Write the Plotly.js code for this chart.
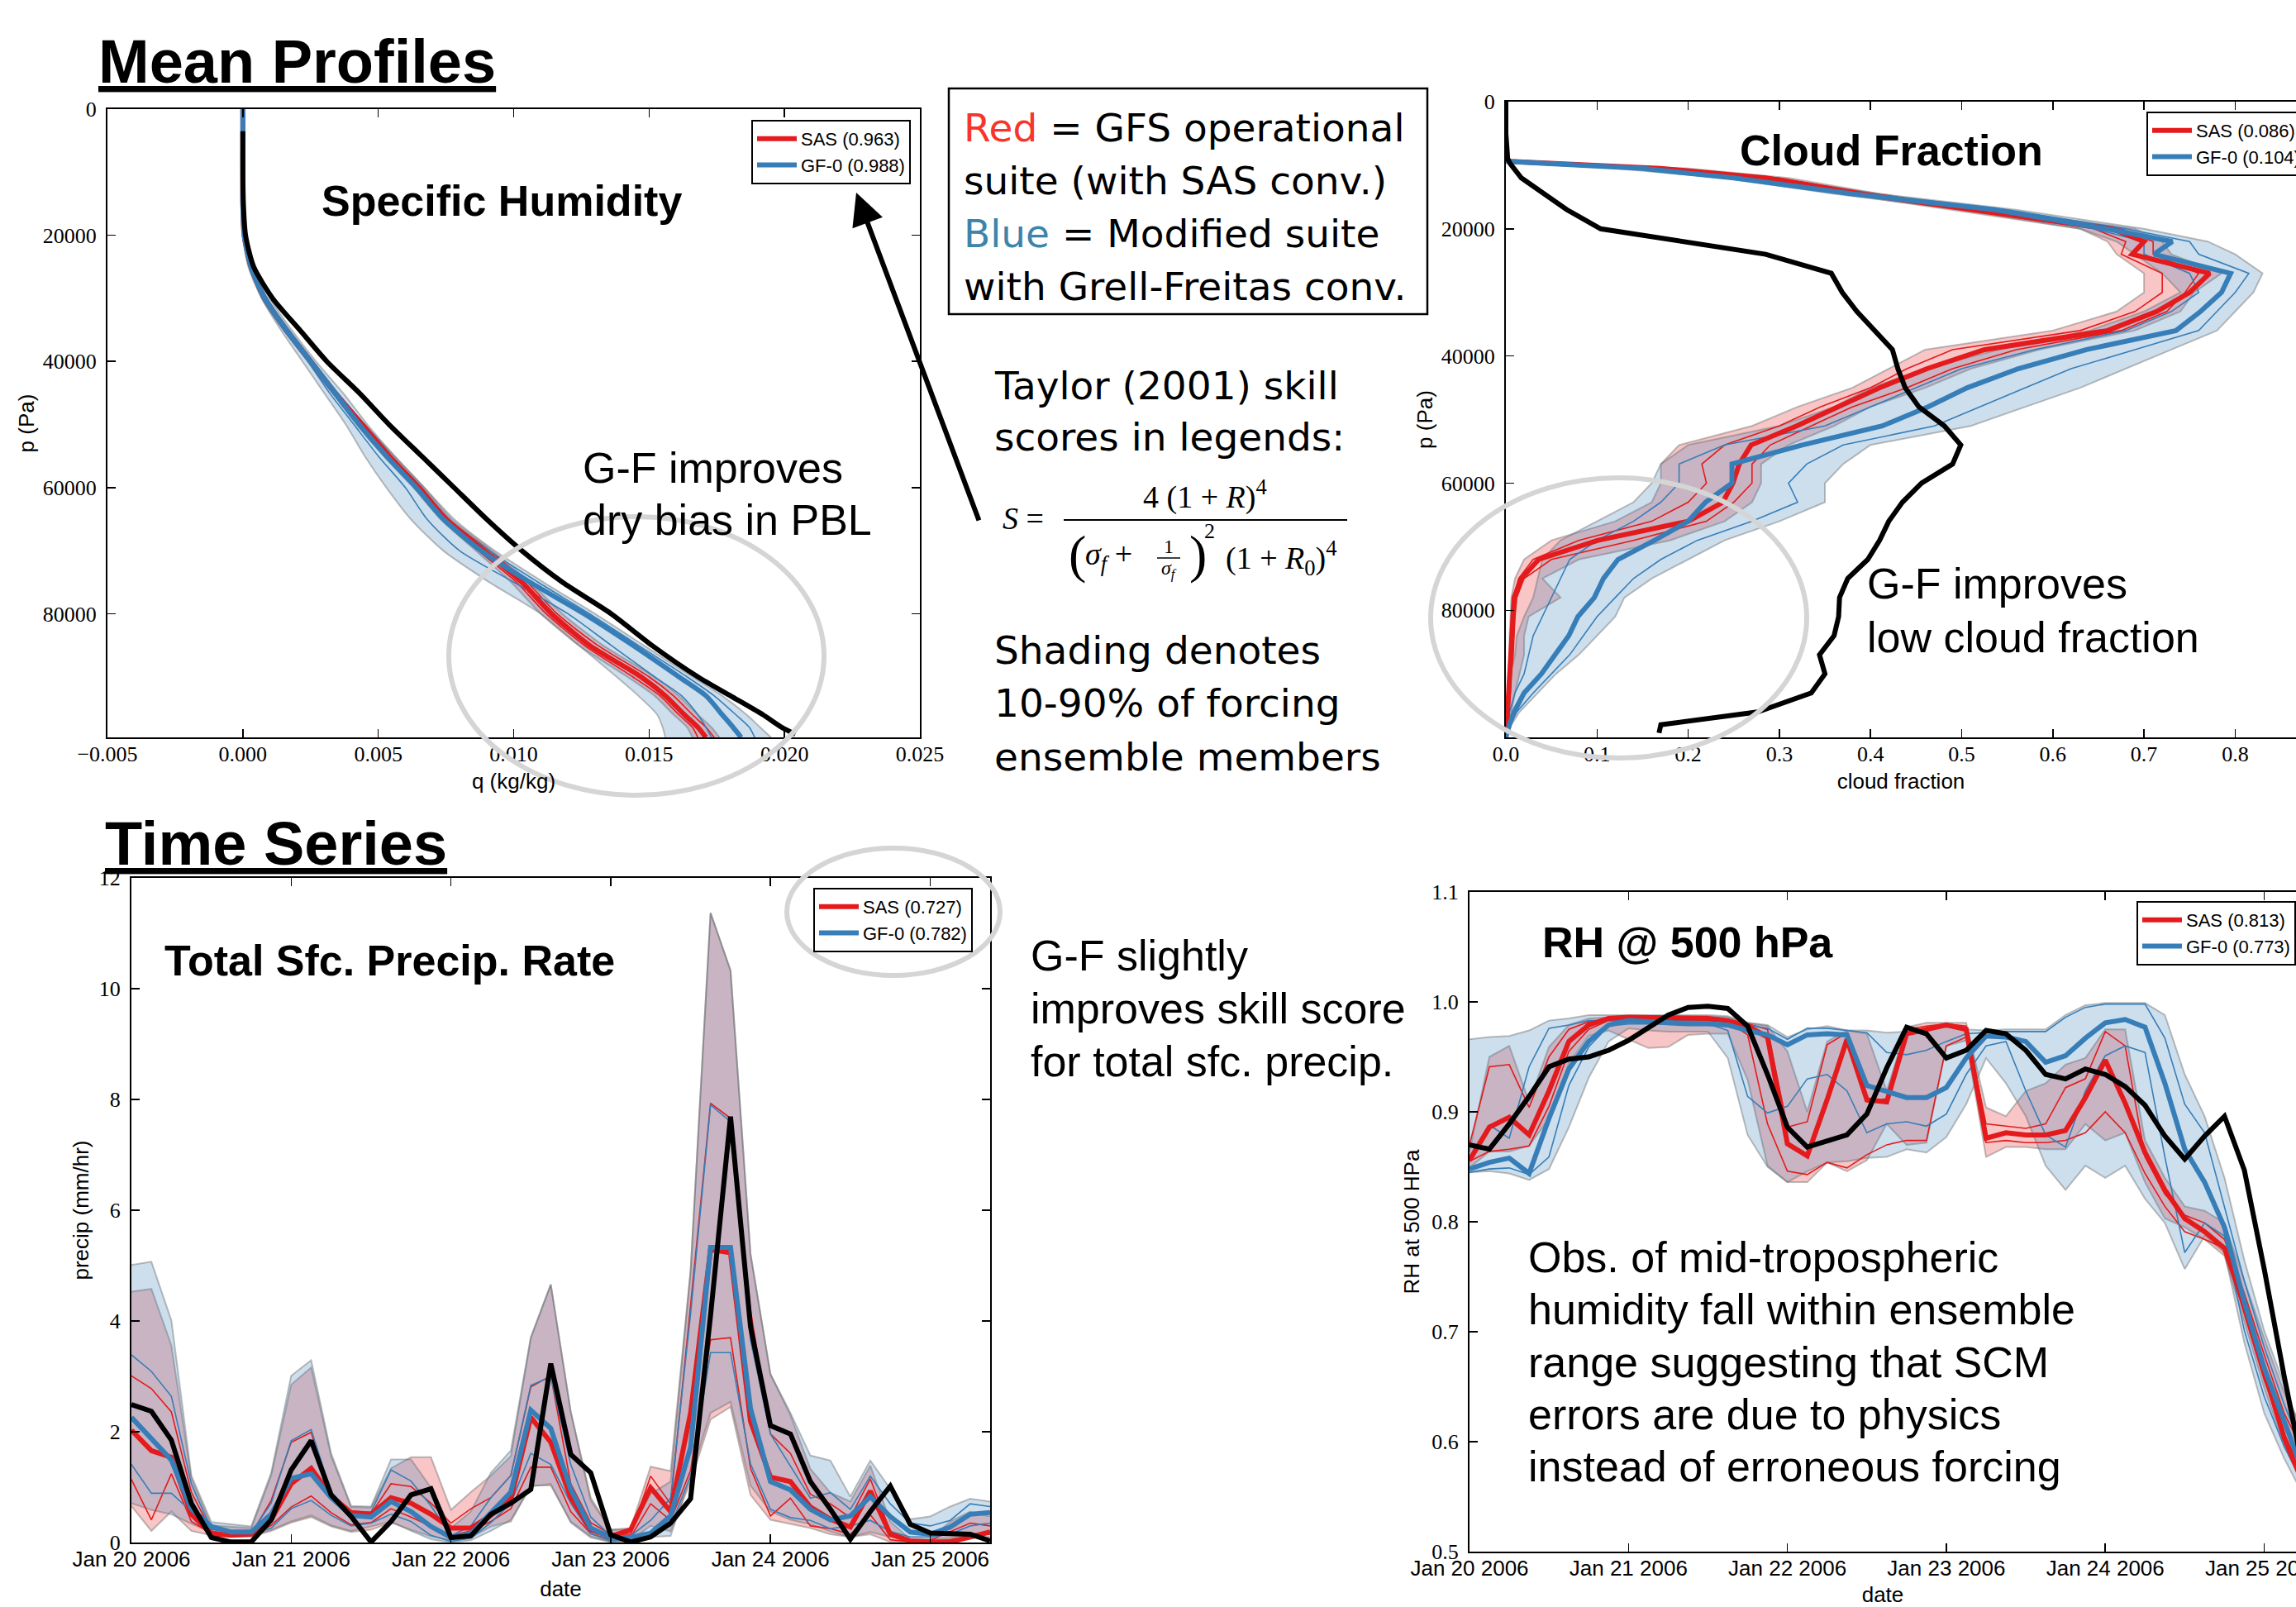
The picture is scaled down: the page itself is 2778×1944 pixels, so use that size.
<!DOCTYPE html>
<html><head><meta charset="utf-8">
<script src="https://cdn.plot.ly/plotly-3.0.1.min.js"></script>
<style>html,body{margin:0;padding:0;background:#fff;} #chart{width:2778px;height:1944px;}</style>
</head><body><div id="chart"></div>
<script>
// ---------- Panel 1: specific humidity profiles ----------
const P1 = [0,5000,10000,15000,20000,25000,30000,35000,40000,45000,50000,55000,60000,65000,70000,75000,80000,85000,90000,93000,96000,98000,99600];
const obsP1 = [3500,5000,10000,15000,20000,25000,30000,35000,40000,45000,50000,55000,60000,65000,70000,75000,80000,85000,90000,93000,96000,98000,99100];
const obsQ = [0,0,0,0.00002,0.0001,0.0004,0.0011,0.0021,0.0031,0.0043,0.0054,0.0066,0.0078,0.0090,0.0103,0.0118,0.0136,0.0151,0.0168,0.0180,0.0192,0.0199,0.0204];
const sasQ = [0,0,0,0,0.00005,0.0003,0.0008,0.0016,0.0025,0.0034,0.0044,0.0054,0.0065,0.0075,0.0089,0.0103,0.0114,0.0128,0.0147,0.0156,0.0163,0.0168,0.0171];
const sasQlo = [0,0,0,0,0.00003,0.00025,0.0007,0.0015,0.0024,0.0033,0.0042,0.0052,0.0063,0.0073,0.0086,0.0099,0.0110,0.0124,0.0142,0.0152,0.0159,0.0164,0.0166];
const sasQhi = [0,0,0,0,0.00008,0.00035,0.0009,0.0017,0.0026,0.0035,0.0045,0.0056,0.0067,0.0077,0.0092,0.0106,0.0118,0.0133,0.0152,0.0161,0.0168,0.0173,0.0176];
const sasQt1 = [0,0,0,0,0.00004,0.0003,0.00075,0.00155,0.00245,0.00335,0.0043,0.0053,0.0064,0.0074,0.0087,0.0101,0.0112,0.0126,0.0144,0.0154,0.0161,0.0166,0.0168];
const sasQt2 = [0,0,0,0,0.00006,0.00032,0.00085,0.00165,0.00255,0.00345,0.0045,0.0055,0.0066,0.0076,0.0091,0.0105,0.0116,0.0131,0.0150,0.0159,0.0166,0.0171,0.0174];
const gfQ = [0,0,0,0,0.00005,0.0003,0.0008,0.0016,0.0025,0.0034,0.0043,0.0053,0.0064,0.0074,0.0088,0.0106,0.0126,0.0144,0.0161,0.0171,0.0177,0.0181,0.0184];
const gfQlo = [0,0,0,0,0,0.0002,0.0007,0.0014,0.0022,0.0030,0.0038,0.0045,0.0053,0.0062,0.0074,0.0091,0.0110,0.0124,0.0138,0.0146,0.0153,0.0155,0.0156];
const gfQhi = [0,0,0,0,0.0001,0.0004,0.0010,0.0018,0.0027,0.0037,0.0046,0.0056,0.0067,0.0078,0.0093,0.0111,0.0130,0.0148,0.0166,0.0177,0.0186,0.0191,0.0195];
const gfQt1 = [0,0,0,0,0.00003,0.00025,0.00075,0.0015,0.0024,0.0032,0.0041,0.0050,0.0060,0.0068,0.0080,0.0100,0.0120,0.0136,0.0152,0.0162,0.0168,0.0171,0.0173];
const gfQt2 = [0,0,0,0,0.00007,0.00035,0.0009,0.0017,0.0026,0.0035,0.0045,0.0055,0.0066,0.0076,0.0091,0.0109,0.0128,0.0146,0.0164,0.0174,0.0182,0.0187,0.0189];

// ---------- Panel 2: cloud fraction profiles ----------
const P2 = [0,5000,9000,9400,10500,12000,14500,17000,20000,22000,24000,27000,30000,33000,36000,39000,42000,45000,48000,51000,54000,57000,60000,63000,66000,69000,72000,75000,78000,81000,84000,87000,90000,93000,96000,98000,100000];
const obsP2 = [0,5000,9000,9800,12000,14500,17000,20000,22000,24000,27000,30000,33000,36000,39000,42000,45000,48000,51000,54000,57000,60000,63000,66000,69000,72000,75000,78000,81000,84000,87000,90000,93000,96000,98000,99300];
const obsCF = [0,0,0.002,0.005,0.017,0.042,0.067,0.104,0.195,0.285,0.357,0.369,0.385,0.404,0.424,0.43,0.438,0.453,0.481,0.499,0.49,0.456,0.435,0.42,0.41,0.397,0.375,0.366,0.365,0.36,0.344,0.35,0.335,0.276,0.17,0.168];
const sasCF = [0,0,0,0.005,0.17,0.285,0.39,0.512,0.665,0.70,0.687,0.772,0.75,0.714,0.66,0.525,0.462,0.41,0.366,0.319,0.269,0.256,0.249,0.238,0.2,0.101,0.036,0.017,0.009,0.008,0.007,0.006,0.005,0.004,0.002,0.001,0];
const sasCFlo = [0,0,0,0,0.14,0.26,0.37,0.49,0.63,0.66,0.67,0.70,0.70,0.67,0.60,0.46,0.42,0.38,0.32,0.27,0.19,0.17,0.17,0.16,0.12,0.05,0.02,0.01,0.006,0.005,0.004,0.004,0.003,0.002,0.001,0,0];
const sasCFhi = [0,0,0,0.01,0.2,0.31,0.41,0.535,0.69,0.72,0.73,0.785,0.755,0.74,0.69,0.585,0.51,0.46,0.40,0.36,0.31,0.28,0.28,0.27,0.24,0.18,0.08,0.04,0.06,0.025,0.02,0.02,0.015,0.01,0.006,0.003,0];
const sasCFt1 = [0,0,0,0.003,0.155,0.27,0.38,0.50,0.645,0.68,0.675,0.72,0.72,0.69,0.63,0.49,0.44,0.40,0.345,0.30,0.24,0.215,0.22,0.20,0.16,0.08,0.03,0.014,0.008,0.007,0.006,0.005,0.004,0.003,0.002,0.001,0];
const sasCFt2 = [0,0,0,0.006,0.185,0.30,0.40,0.525,0.675,0.71,0.71,0.76,0.745,0.725,0.675,0.56,0.49,0.44,0.38,0.335,0.29,0.27,0.27,0.25,0.22,0.14,0.05,0.02,0.012,0.01,0.009,0.008,0.006,0.005,0.003,0.001,0];
const gfCF = [0,0,0,0.002,0.15,0.25,0.38,0.537,0.659,0.731,0.711,0.795,0.785,0.762,0.735,0.637,0.562,0.506,0.463,0.413,0.325,0.248,0.248,0.219,0.2,0.163,0.123,0.107,0.097,0.079,0.069,0.054,0.039,0.02,0.009,0.004,0];
const gfCFlo = [0,0,0,0,0.12,0.24,0.36,0.50,0.63,0.67,0.69,0.72,0.74,0.70,0.64,0.54,0.46,0.40,0.36,0.30,0.20,0.17,0.16,0.14,0.10,0.06,0.04,0.035,0.03,0.02,0.012,0.01,0.005,0.002,0.001,0,0];
const gfCFhi = [0,0,0,0.01,0.19,0.29,0.41,0.56,0.70,0.77,0.80,0.83,0.82,0.80,0.78,0.73,0.68,0.63,0.57,0.51,0.40,0.37,0.35,0.35,0.30,0.24,0.20,0.16,0.13,0.12,0.10,0.08,0.055,0.035,0.015,0.006,0];
const gfCFt1 = [0,0,0,0.001,0.135,0.245,0.37,0.52,0.645,0.70,0.70,0.75,0.76,0.73,0.68,0.58,0.50,0.45,0.40,0.35,0.24,0.19,0.19,0.17,0.14,0.10,0.07,0.06,0.05,0.04,0.03,0.025,0.02,0.01,0.004,0.002,0];
const gfCFt2 = [0,0,0,0.004,0.17,0.27,0.395,0.55,0.68,0.75,0.76,0.815,0.80,0.78,0.76,0.69,0.62,0.57,0.52,0.47,0.37,0.33,0.31,0.32,0.27,0.21,0.17,0.14,0.12,0.10,0.085,0.07,0.05,0.03,0.012,0.005,0];

// ---------- Time axis (3-hourly) ----------
const times = ['2006-01-20 00:00','2006-01-20 03:00','2006-01-20 06:00','2006-01-20 09:00','2006-01-20 12:00','2006-01-20 15:00','2006-01-20 18:00','2006-01-20 21:00',
 '2006-01-21 00:00','2006-01-21 03:00','2006-01-21 06:00','2006-01-21 09:00','2006-01-21 12:00','2006-01-21 15:00','2006-01-21 18:00','2006-01-21 21:00',
 '2006-01-22 00:00','2006-01-22 03:00','2006-01-22 06:00','2006-01-22 09:00','2006-01-22 12:00','2006-01-22 15:00','2006-01-22 18:00','2006-01-22 21:00',
 '2006-01-23 00:00','2006-01-23 03:00','2006-01-23 06:00','2006-01-23 09:00','2006-01-23 12:00','2006-01-23 15:00','2006-01-23 18:00','2006-01-23 21:00',
 '2006-01-24 00:00','2006-01-24 03:00','2006-01-24 06:00','2006-01-24 09:00','2006-01-24 12:00','2006-01-24 15:00','2006-01-24 18:00','2006-01-24 21:00',
 '2006-01-25 00:00','2006-01-25 03:00','2006-01-25 06:00','2006-01-25 09:00'];

// ---------- Panel 3: precipitation ----------
const obsPr = [2.49,2.37,1.85,0.71,0.09,0.01,0.01,0.41,1.31,1.84, 0.86,0.47,0.01,0.38,0.86,0.97,0.09,0.12,0.51,0.71, 0.96,3.23,1.59,1.26,0.14,0.01,0.1,0.35,0.79,4.1, 7.69,3.9,2.11,1.96,1.1,0.6,0.06,0.56,1.02,0.33, 0.17,0.15,0.15,0.03];
const sasPr = [2.03,1.66,1.54,0.51,0.16,0.13,0.15,0.41,1.06,1.34, 0.84,0.54,0.51,0.81,0.71,0.51,0.26,0.26,0.49,0.79, 2.26,1.81,0.81,0.23,0.11,0.23,0.99,0.56,2.34,5.29, 5.23,2.19,1.18,1.1,0.64,0.42,0.28,0.93,0.15,0.03, 0.01,0.01,0.1,0.19];
const sasPrLo = [0.66,0.21,0.56,0.21,0.13,0.11,0.11,0.21,0.36,0.46, 0.29,0.19,0.23,0.36,0.23,0.11,0.04,0.09,0.29,0.38, 1.03,1.03,0.38,0.11,0.01,0.04,0.3,0.2,1.1,2.22, 2.45,0.86,0.41,0.33,0.26,0.15,0.1,0.15,0.01,0, 0,0,0.08,0.1];
const sasPrHi = [4.53,4.58,3.56,1.16,0.31,0.29,0.26,1.21,2.85,3.16, 1.56,0.64,0.63,1.34,1.54,1.54,0.59,0.91,1.21,1.56, 3.69,4.66,2.36,0.81,0.23,0.26,1.37,1.29,4.9,11.37, 10.33,5.21,3.04,2.3,1.33,0.9,0.74,1.39,0.38,0.06, 0.06,0.38,0.56,0.47];
const sasPrT1 = [3.01,2.78,2.36,0.91,0.21,0.15,0.15,0.76,1.81,1.99, 0.86,0.55,0.52,1.06,1.01,0.71,0.35,0.61,0.81,1.21, 2.81,3.01,1.06,0.36,0.15,0.15,1.2,0.7,4.28,7.93, 7.66,4.2,1.96,1.61,0.87,0.7,0.45,1.15,0.2,0.05, 0.04,0.2,0.35,0.3];
const sasPrT2 = [1.14,0.41,1.24,0.38,0.16,0.12,0.12,0.31,0.64,0.84, 0.54,0.32,0.36,0.61,0.46,0.29,0.13,0.21,0.38,0.61, 1.36,1.36,0.56,0.16,0.05,0.1,0.7,0.4,1.3,3.66, 3.7,1.34,0.48,0.8,0.3,0.25,0.15,0.5,0.05,0.01, 0.01,0.05,0.12,0.15];
const gfPr = [2.26,1.86,1.49,0.61,0.29,0.19,0.19,0.51,1.16,1.24, 0.81,0.49,0.46,0.74,0.56,0.29,0.09,0.16,0.54,0.91, 2.39,2.06,0.96,0.26,0.09,0.09,0.17,0.48,1.72,5.33, 5.33,2.42,1.1,0.95,0.6,0.41,0.48,0.83,0.47,0.19, 0.15,0.28,0.51,0.54];
const gfPrLo = [0.71,0.59,0.51,0.34,0.19,0.13,0.13,0.23,0.38,0.49, 0.31,0.21,0.29,0.38,0.21,0.06,0,0.04,0.21,0.41, 1.01,1.06,0.36,0.09,0.01,0.01,0.1,0.12,1.2,2.34, 2.54,1.03,0.56,0.41,0.33,0.2,0.1,0.19,0.1,0.06, 0.05,0.08,0.15,0.19];
const gfPrHi = [5.01,5.07,4.01,1.21,0.37,0.33,0.29,1.26,3.01,3.29, 1.61,0.66,0.65,1.5,1.5,0.99,0.26,0.56,1.26,1.66, 3.71,4.66,2.36,0.76,0.23,0.23,0.88,1.1,4.9,11.37, 10.33,5.21,3.04,2.34,1.57,1.48,0.83,1.48,0.97,0.42, 0.47,0.65,0.79,0.74];
const gfPrT1 = [3.39,3.09,2.64,1.06,0.24,0.18,0.18,0.71,1.84,2.04, 0.91,0.55,0.55,1.31,1.11,0.66,0.12,0.3,0.81,1.21, 2.84,2.99,1.41,0.46,0.12,0.12,0.4,0.8,4.13,7.9, 7.6,3.66,1.96,1.38,0.8,0.9,0.6,1.2,0.7,0.35, 0.3,0.4,0.7,0.65];
const gfPrT2 = [1.41,0.89,0.89,0.56,0.2,0.15,0.15,0.26,0.61,0.76, 0.49,0.3,0.35,0.51,0.38,0.13,0.02,0.08,0.36,0.71, 1.61,1.41,0.71,0.16,0.03,0.05,0.15,0.3,1.2,3.43, 3.43,1.42,0.6,0.45,0.4,0.25,0.3,0.4,0.2,0.1, 0.1,0.15,0.3,0.35];

// ---------- Panel 4: RH at 500 hPa ----------
const obsRH = [0.87,0.866,0.889,0.914,0.941,0.948,0.95,0.956,0.965,0.976, 0.988,0.995,0.996,0.994,0.978,0.934,0.886,0.868,0.873,0.879, 0.898,0.94,0.977,0.971,0.949,0.956,0.974,0.971,0.956,0.934, 0.93,0.939,0.934,0.923,0.906,0.878,0.857,0.878,0.896,0.847, 0.757,0.66,0.57,0.5];
const sasRH = [0.856,0.886,0.895,0.879,0.919,0.964,0.979,0.985,0.986,0.986, 0.986,0.985,0.985,0.983,0.978,0.968,0.871,0.86,0.911,0.966, 0.911,0.909,0.971,0.975,0.979,0.975,0.876,0.881,0.879,0.879, 0.883,0.913,0.947,0.908,0.863,0.829,0.803,0.791,0.776,0.724, 0.664,0.604,0.56,0.54];
const sasRHlo = [0.849,0.864,0.864,0.869,0.894,0.944,0.969,0.974,0.966,0.958, 0.959,0.97,0.971,0.971,0.929,0.851,0.836,0.836,0.854,0.846, 0.856,0.889,0.87,0.872,0.96,0.965,0.859,0.868,0.868,0.866, 0.866,0.889,0.874,0.881,0.836,0.803,0.795,0.784,0.769,0.709, 0.649,0.596,0.56,0.53];
const sasRHhi = [0.864,0.95,0.96,0.909,0.959,0.979,0.985,0.986,0.987,0.987, 0.987,0.987,0.987,0.986,0.981,0.978,0.955,0.9,0.964,0.974, 0.971,0.919,0.977,0.981,0.981,0.981,0.904,0.896,0.919,0.926, 0.943,0.949,0.975,0.975,0.874,0.84,0.814,0.81,0.799,0.746, 0.694,0.645,0.61,0.58];
const sasRHt1 = [0.87,0.941,0.943,0.904,0.95,0.975,0.982,0.984,0.985,0.985, 0.985,0.985,0.985,0.984,0.98,0.975,0.886,0.891,0.961,0.972, 0.909,0.912,0.975,0.978,0.98,0.978,0.889,0.887,0.885,0.889, 0.922,0.93,0.973,0.96,0.859,0.825,0.806,0.799,0.784,0.735, 0.679,0.626,0.59,0.56];
const sasRHt2 = [0.855,0.864,0.866,0.869,0.905,0.955,0.975,0.983,0.983,0.983, 0.983,0.983,0.983,0.982,0.97,0.889,0.846,0.843,0.854,0.849, 0.861,0.87,0.874,0.874,0.96,0.968,0.872,0.874,0.872,0.872, 0.874,0.881,0.9,0.881,0.844,0.814,0.791,0.784,0.776,0.716, 0.656,0.607,0.57,0.54];
const gfRH = [0.848,0.854,0.858,0.844,0.894,0.939,0.964,0.979,0.983,0.982, 0.98,0.98,0.98,0.979,0.974,0.97,0.961,0.97,0.971,0.97, 0.924,0.919,0.913,0.913,0.922,0.949,0.969,0.968,0.964,0.945, 0.951,0.967,0.981,0.984,0.977,0.926,0.866,0.836,0.795,0.727, 0.667,0.619,0.57,0.55];
const gfRHlo = [0.845,0.846,0.844,0.838,0.848,0.886,0.931,0.964,0.976,0.974, 0.973,0.973,0.973,0.949,0.879,0.85,0.836,0.846,0.854,0.855, 0.858,0.859,0.866,0.863,0.877,0.907,0.949,0.926,0.896,0.851, 0.829,0.851,0.84,0.851,0.821,0.799,0.757,0.787,0.772,0.69, 0.626,0.585,0.55,0.52];
const gfRHhi = [0.966,0.968,0.969,0.974,0.983,0.985,0.988,0.988,0.988,0.988, 0.988,0.988,0.988,0.987,0.981,0.979,0.968,0.975,0.978,0.974, 0.974,0.972,0.973,0.975,0.977,0.975,0.974,0.975,0.975,0.975, 0.988,0.997,0.999,0.999,0.999,0.988,0.934,0.896,0.84,0.765, 0.701,0.652,0.6,0.57];
const gfRHt1 = [0.859,0.888,0.876,0.941,0.976,0.979,0.983,0.983,0.983,0.983, 0.983,0.983,0.983,0.983,0.979,0.976,0.966,0.976,0.976,0.974, 0.972,0.954,0.952,0.956,0.964,0.971,0.972,0.973,0.973,0.973, 0.986,0.995,0.998,0.998,0.998,0.967,0.907,0.881,0.814,0.746, 0.686,0.634,0.59,0.56];
const gfRHt2 = [0.845,0.848,0.849,0.843,0.859,0.924,0.959,0.978,0.98,0.98, 0.98,0.98,0.98,0.974,0.914,0.899,0.905,0.93,0.934,0.919, 0.881,0.889,0.891,0.887,0.898,0.934,0.96,0.964,0.919,0.879, 0.868,0.919,0.951,0.96,0.954,0.859,0.772,0.799,0.787,0.701, 0.641,0.596,0.56,0.53];

// ---------- legend labels (Taylor skill scores) ----------
const legendNames = {
  q:   ['SAS (0.963)', 'GF-0 (0.988)'],
  cf:  ['SAS (0.086)', 'GF-0 (0.104)'],
  pr:  ['SAS (0.727)', 'GF-0 (0.782)'],
  rh:  ['SAS (0.813)', 'GF-0 (0.773)']
};

// ---------- styling / helpers ----------
const W = 2778, H = 1944;
const px = x => x / W;
const py = y => 1 - y / H;
const SANS = 'Liberation Sans, Arial, Helvetica, sans-serif';
const SERIF = 'Liberation Serif, Times New Roman, serif';
const WIDE = 'DejaVu Sans, Verdana, sans-serif';
const RED = '#e41a1c', BLUE = '#377eb8';
const RED_FILL = 'rgba(228,26,28,0.25)', BLUE_FILL = 'rgba(55,126,184,0.25)';
const EDGE = 'rgba(110,110,110,0.45)';

const traces = [];
function L(xa, ya, x, y, color, width, o) {
  o = o || {};
  const t = {type:'scatter', mode:'lines', x, y, xaxis:xa, yaxis:ya,
             line:{color, width, shape: o.spline ? 'spline' : 'linear'},
             showlegend: !!o.name, hoverinfo:'skip'};
  if (o.spline) t.line.smoothing = 0.7;
  if (o.fill) { t.fill = o.fill; t.fillcolor = o.fillcolor; }
  if (o.name) { t.name = o.name; t.legend = o.legend; t.legendgroup = o.group; }
  traces.push(t);
}
function panel(o) {
  const xy = v => o.v ? [v, o.coord] : [o.coord, v];
  const fill = o.v ? 'tonextx' : 'tonexty';
  const sp = o.spline;
  L(o.xa, o.ya, ...xy(o.sas.lo), EDGE, 2, {spline:sp});
  L(o.xa, o.ya, ...xy(o.sas.hi), EDGE, 2, {spline:sp, fill, fillcolor:RED_FILL});
  L(o.xa, o.ya, ...xy(o.gf.lo), EDGE, 2, {spline:sp});
  L(o.xa, o.ya, ...xy(o.gf.hi), EDGE, 2, {spline:sp, fill, fillcolor:BLUE_FILL});
  L(o.xa, o.ya, ...xy(o.sas.t1), RED, 1.6, {spline:sp});
  L(o.xa, o.ya, ...xy(o.sas.t2), RED, 1.6, {spline:sp});
  L(o.xa, o.ya, ...xy(o.gf.t1), BLUE, 1.6, {spline:sp});
  L(o.xa, o.ya, ...xy(o.gf.t2), BLUE, 1.6, {spline:sp});
  L(o.xa, o.ya, ...xy(o.sas.mean), RED, 6, {spline:sp, name:o.names[0], legend:o.legend, group:o.legend+'s'});
  L(o.xa, o.ya, ...xy(o.gf.mean), BLUE, 6, {spline:sp, name:o.names[1], legend:o.legend, group:o.legend+'g'});
  const ob = o.v ? [o.obs, o.obsCoord] : [o.obsCoord, o.obs];
  L(o.xa, o.ya, ob[0], ob[1], 'black', 6, {spline:sp});
}

panel({v:true, spline:true, xa:'x', ya:'y', coord:P1, obs:obsQ, obsCoord:obsP1, legend:'legend', names:legendNames.q,
  sas:{mean:sasQ, lo:sasQlo, hi:sasQhi, t1:sasQt1, t2:sasQt2},
  gf:{mean:gfQ, lo:gfQlo, hi:gfQhi, t1:gfQt1, t2:gfQt2}});
panel({v:true, xa:'x2', ya:'y2', coord:P2, obs:obsCF, obsCoord:obsP2, legend:'legend2', names:legendNames.cf,
  sas:{mean:sasCF, lo:sasCFlo, hi:sasCFhi, t1:sasCFt1, t2:sasCFt2},
  gf:{mean:gfCF, lo:gfCFlo, hi:gfCFhi, t1:gfCFt1, t2:gfCFt2}});
panel({v:false, xa:'x3', ya:'y3', coord:times, obs:obsPr, obsCoord:times, legend:'legend3', names:legendNames.pr,
  sas:{mean:sasPr, lo:sasPrLo, hi:sasPrHi, t1:sasPrT1, t2:sasPrT2},
  gf:{mean:gfPr, lo:gfPrLo, hi:gfPrHi, t1:gfPrT1, t2:gfPrT2}});
panel({v:false, xa:'x4', ya:'y4', coord:times, obs:obsRH, obsCoord:times, legend:'legend4', names:legendNames.rh,
  sas:{mean:sasRH, lo:sasRHlo, hi:sasRHhi, t1:sasRHt1, t2:sasRHt2},
  gf:{mean:gfRH, lo:gfRHlo, hi:gfRHhi, t1:gfRHt1, t2:gfRHt2}});

function axis(extra, titleText, standoff) {
  const a = {showline:true, linecolor:'black', linewidth:2, ticks:'inside', ticklen:10, tickwidth:1.5,
    tickcolor:'black', showgrid:false, zeroline:false, mirror:'allticks', ticklabelstandoff:6,
    ticklabeloverflow:'allow',
    tickfont:{family:SERIF, size:26, color:'black'},
    title:{text:titleText, standoff:standoff, font:{family:SANS, size:26, color:'black'}}};
  return Object.assign(a, extra);
}
const dateFont = {family:SANS, size:26, color:'black'};

function legendBox(x, xanchor, y) {
  return {x:px(x), xanchor, y:py(y), yanchor:'top', xref:'paper', yref:'paper', bgcolor:'white',
    bordercolor:'black', borderwidth:2, font:{family:SANS, size:22, color:'black'},
    itemwidth:48, tracegroupgap:5, traceorder:'normal'};
}

// text helpers
function T(text, x, baseline, size, o) {
  o = o || {};
  return {text, x:px(x), y:py(baseline - 0.35*size), xref:'paper', yref:'paper',
    xanchor:o.anchor || 'left', yanchor:'middle', showarrow:false,
    font:{family:o.family || SANS, size, color:o.color || 'black'}};
}
const ann = [];
ann.push(T('<b><u>Mean Profiles</u></b>', 117, 100, 74));
ann.push(T('<b><u>Time Series</u></b>', 125, 1046, 74));
ann.push(T('<b>Specific Humidity</b>', 607, 261, 52, {anchor:'center'}));
ann.push(T('<b>Cloud Fraction</b>', 2288, 200, 52, {anchor:'center'}));
ann.push(T('<b>Total Sfc. Precip. Rate</b>', 471, 1180, 52, {anchor:'center'}));
ann.push(T('<b>RH @ 500 hPa</b>', 2042, 1158, 52, {anchor:'center'}));

ann.push(T('G-F improves', 703, 584, 52));
ann.push(T('dry bias in PBL', 703, 647, 52));
ann.push(T('G-F improves', 2257, 724, 52));
ann.push(T('low cloud fraction', 2257, 789, 52));
ann.push(T('G-F slightly', 1245, 1174, 52));
ann.push(T('improves skill score', 1245, 1238, 52));
ann.push(T('for total sfc. precip.', 1245, 1302, 52));
['Obs. of mid-tropospheric', 'humidity fall within ensemble', 'range suggesting that SCM',
 'errors are due to physics', 'instead of erroneous forcing'].forEach((s, i) => {
  ann.push(T(s, 1847, [1539, 1602, 1666, 1729, 1792][i], 52));
});

ann.push(T("<span style='color:#f8352b'>Red</span> = GFS operational", 1164, 171, 47, {family:WIDE}));
ann.push(T('suite (with SAS conv.)', 1164, 235, 47, {family:WIDE}));
ann.push(T("<span style='color:#3d84ab'>Blue</span> = Modified suite", 1164, 299, 47, {family:WIDE}));
ann.push(T('with Grell-Freitas conv.', 1164, 363, 47, {family:WIDE}));
ann.push(T('Taylor (2001) skill', 1201, 483, 47, {family:WIDE}));
ann.push(T('scores in legends:', 1201, 545, 47, {family:WIDE}));
ann.push(T('Shading denotes', 1201, 803, 47, {family:WIDE}));
ann.push(T('10-90% of forcing', 1201, 867, 47, {family:WIDE}));
ann.push(T('ensemble members', 1201, 932, 47, {family:WIDE}));

// formula S = 4(1+R)^4 / ((sigma_f + 1/sigma_f)^2 (1+R0)^4)
ann.push(T('<i>S</i> =', 1211, 640, 38, {family:SERIF}));
ann.push(T('4 (1 + <i>R</i>)<sup>4</sup>', 1458, 612, 38, {family:SERIF, anchor:'center'}));
ann.push(T('(', 1291, 693, 64, {family:SERIF}));
ann.push(T('<i>σ<sub>f</sub></i> +', 1311, 686, 38, {family:SERIF}));
ann.push(T('1', 1414, 669, 24, {family:SERIF, anchor:'center'}));
ann.push(T('<i>σ<sub>f</sub></i>', 1414, 697, 24, {family:SERIF, anchor:'center'}));
ann.push(T(')', 1437, 693, 64, {family:SERIF}));
ann.push(T('2', 1463, 652, 26, {family:SERIF, anchor:'center'}));
ann.push(T('(1 + <i>R</i><sub>0</sub>)<sup>4</sup>', 1481, 688, 38, {family:SERIF}));

// arrow pointing at the legend
ann.push({x:px(1036), y:py(233), xref:'paper', yref:'paper', ax:149, ay:398, axref:'pixel', ayref:'pixel',
  text:'', showarrow:true, arrowhead:2, arrowsize:1.3, arrowwidth:6, arrowcolor:'black', standoff:0});

const shapes = [
  {type:'circle', xref:'paper', yref:'paper', x0:px(543), x1:px(997), y0:py(962), y1:py(625), line:{color:'#d5d5d5', width:6}, layer:'above'},
  {type:'circle', xref:'paper', yref:'paper', x0:px(1731), x1:px(2186), y0:py(917), y1:py(578), line:{color:'#d5d5d5', width:6}, layer:'above'},
  {type:'circle', xref:'paper', yref:'paper', x0:px(952), x1:px(1210), y0:py(1180), y1:py(1026), line:{color:'#d5d5d5', width:6}, layer:'above'},
  {type:'rect', xref:'paper', yref:'paper', x0:px(1148), x1:px(1727), y0:py(380), y1:py(107), line:{color:'black', width:2.5}, layer:'above'},
  {type:'line', xref:'paper', yref:'paper', x0:px(1287), x1:px(1630), y0:py(629), y1:py(629), line:{color:'black', width:2}, layer:'above'},
  {type:'line', xref:'paper', yref:'paper', x0:px(1400), x1:px(1428), y0:py(675), y1:py(675), line:{color:'black', width:1.5}, layer:'above'}
];

const layout = {
  width:W, height:H, margin:{l:0, r:0, t:0, b:0, autoexpand:false},
  paper_bgcolor:'white', plot_bgcolor:'rgba(0,0,0,0)', font:{family:SANS, color:'black'},
  showlegend:true,
  xaxis: axis({domain:[px(130), px(1113)], range:[-0.005, 0.025], dtick:0.005, tick0:0, tickformat:'.3f', anchor:'y', ticklabelstandoff:-4}, 'q (kg/kg)', 10),
  yaxis: axis({domain:[py(892), py(132)], range:[99600, 0], dtick:20000, tick0:0, tickformat:'d', anchor:'x'}, 'p (Pa)', 3),
  xaxis2: axis({domain:[px(1822), 1], range:[0, 0.8667], dtick:0.1, tick0:0, tickformat:'.1f', anchor:'y2', ticklabelstandoff:-4}, 'cloud fraction', 10),
  yaxis2: axis({domain:[py(892), py(123)], range:[99990, 0], dtick:20000, tick0:0, tickformat:'d', anchor:'x2', mirror:false}, 'p (Pa)', 3),
  xaxis3: axis({type:'date', domain:[px(159), px(1198)], range:['2006-01-20 00:00', '2006-01-25 09:00'], dtick:86400000, tick0:'2006-01-20', tickformat:'%b %d %Y', tickfont:dateFont, anchor:'y3', ticklabelstandoff:-4}, 'date', 13),
  yaxis3: axis({domain:[py(1866), py(1062)], range:[0, 12], dtick:2, tick0:0, anchor:'x3'}, 'precip (mm/hr)', 5),
  xaxis4: axis({type:'date', domain:[px(1778), 1], range:['2006-01-20 00:00', '2006-01-25 04:48'], dtick:86400000, tick0:'2006-01-20', tickformat:'%b %d %Y', tickfont:dateFont, anchor:'y4', ticklabelstandoff:-4}, 'date', 13),
  yaxis4: axis({domain:[py(1877), py(1079)], range:[0.5, 1.1], dtick:0.1, tick0:0.5, tickformat:'.1f', anchor:'x4', mirror:false}, 'RH at 500 HPa', 7),
  legend: legendBox(1102, 'right', 145),
  legend2: legendBox(2597, 'left', 135),
  legend3: legendBox(1177, 'right', 1074),
  legend4: legendBox(2585, 'left', 1090),
  annotations: ann,
  shapes: shapes
};

Plotly.newPlot('chart', traces, layout, {displayModeBar:false, staticPlot:true});
</script></body></html>
